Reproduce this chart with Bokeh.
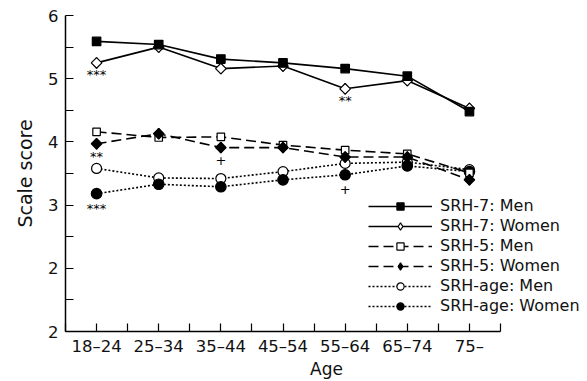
import math
from bokeh.plotting import figure
from bokeh.models import FixedTicker, Legend, LegendItem, ColumnDataSource
from bokeh.core.properties import value
from bokeh.embed import file_html
from bokeh.resources import INLINE

ages = ["18\u201324", "25\u201334", "35\u201344", "45\u201354", "55\u201364", "65\u201374", "75\u2013"]
srh7_men = [5.59, 5.54, 5.31, 5.25, 5.16, 5.04, 4.48]
srh7_women = [5.25, 5.50, 5.16, 5.20, 4.84, 4.97, 4.53]
srh5_men = [4.16, 4.07, 4.08, 3.95, 3.87, 3.81, 3.51]
srh5_women = [3.97, 4.13, 3.91, 3.91, 3.76, 3.76, 3.40]
srhage_men = [3.58, 3.43, 3.42, 3.53, 3.66, 3.68, 3.56]
srhage_women = [3.18, 3.33, 3.29, 3.40, 3.48, 3.62, 3.53]

y_ticks = [1, 2, 3, 4, 5, 6]
y_tick_labels = ["2", "2", "3", "4", "5", "6"]

notes_text = ["***", "**", "+", "**", "+", "***"]
notes_age = [0, 0, 2, 4, 4, 0]
notes_y = [5.06, 3.77, 3.70, 4.65, 3.24, 2.95]

FONT = "DejaVu Sans"
xs = list(range(len(ages)))

p = figure(frame_width=522, frame_height=316, output_backend="svg", toolbar_location=None,
           x_range=(-0.5, 7.9), y_range=(1, 6),
           min_border_left=65, min_border_top=15, min_border_right=0, min_border_bottom=50)
p.outline_line_color = None
p.grid.visible = False
p.background_fill_color = "white"
p.border_fill_color = "white"

# axes
p.xaxis.ticker = FixedTicker(ticks=xs, minor_ticks=[i - 0.5 for i in xs] + [len(xs) - 0.5])
p.xaxis.major_label_overrides = {i: a for i, a in enumerate(ages)}
p.xaxis.bounds = (-0.5, len(xs) - 0.5)
p.yaxis.ticker = FixedTicker(ticks=y_ticks, minor_ticks=[t + 0.5 for t in y_ticks[:-1]])
p.yaxis.major_label_overrides = {t: l for t, l in zip(y_ticks, y_tick_labels)}
for ax in (p.xaxis, p.yaxis):
    ax.axis_line_color = "black"
    ax.axis_line_width = 1.5
    ax.major_tick_in = 8
    ax.major_tick_out = 0
    ax.minor_tick_in = 8
    ax.minor_tick_out = 0
    ax.major_tick_line_width = 1.2
    ax.minor_tick_line_width = 1.2
    ax.major_tick_line_color = "black"
    ax.minor_tick_line_color = "black"
    ax.major_label_text_font = FONT
    ax.major_label_text_font_size = "16.5px"
    ax.major_label_text_color = "#111111"
    ax.axis_label_text_font = FONT
    ax.axis_label_text_font_style = "normal"
    ax.axis_label_text_color = "#111111"
p.xaxis.axis_label = "Age"
p.yaxis.axis_label = "Scale score"
p.xaxis.axis_label_text_font_size = "17px"
p.yaxis.axis_label_text_font_size = "19px"
p.xaxis.major_label_standoff = 5
p.yaxis.major_label_standoff = 7
p.xaxis.axis_label_standoff = 0
p.yaxis.axis_label_standoff = 9

items = []

def series(ys, dash, marker, fill, size, label, angle=0.0):
    src = ColumnDataSource(dict(x=xs, y=ys))
    r1 = p.line("x", "y", source=src, line_color="black", line_width=1.6, line_dash=dash)
    if angle:
        # diamond glyph used for the legend (legend glyphs ignore rotation),
        # covered in the plot by a rotated square
        leg = p.scatter("x", "y", source=src, marker="diamond", size=size * 1.4,
                        line_color="black", line_width=1.2, fill_color=fill)
        p.scatter("x", "y", source=src, marker=marker, size=size, angle=angle,
                  line_color="black", line_width=1.2, fill_color=fill)
    else:
        leg = p.scatter("x", "y", source=src, marker=marker, size=size,
                        line_color="black", line_width=1.2, fill_color=fill)
    items.append(LegendItem(label=label, renderers=[r1, leg]))

series(srhage_men, "2 2", "circle", "white", 10, "SRH-age: Men")
series(srhage_women, "2 2", "circle", "black", 10.5, "SRH-age: Women")
series(srh5_men, "10 5", "square", "white", 7.5, "SRH-5: Men")
series(srh5_women, "10 5", "square", "black", 7.5, "SRH-5: Women", angle=math.pi / 4)
series(srh7_women, "solid", "square", "white", 7.5, "SRH-7: Women", angle=math.pi / 4)
series(srh7_men, "solid", "square", "black", 8.5, "SRH-7: Men")

order = ["SRH-7: Men", "SRH-7: Women", "SRH-5: Men", "SRH-5: Women", "SRH-age: Men", "SRH-age: Women"]
items = sorted(items, key=lambda it: order.index(it.label.value))

p.text(x=notes_age, y=notes_y, text=notes_text, text_font=value(FONT), text_font_size="13px",
       text_align="center", text_baseline="middle", text_color="black")

legend = Legend(items=items, location=(303, 16), label_text_font=FONT, label_text_font_size="16px",
                label_text_color="#111111", glyph_width=64, glyph_height=18, label_standoff=8,
                spacing=1, padding=0, margin=0, border_line_color=None, background_fill_alpha=0)
p.add_layout(legend, "center")

open("out.html", "w").write(file_html(p, INLINE))
